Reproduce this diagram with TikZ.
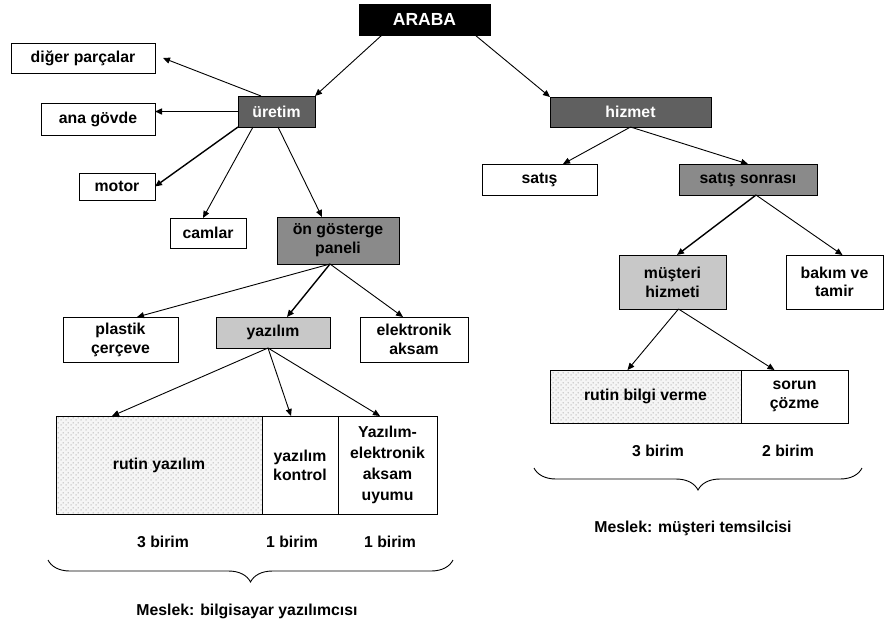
\documentclass[tikz,border=0pt]{standalone}
\usepackage{fontspec}
\setmainfont{Liberation Sans}
\usetikzlibrary{arrows.meta,calc,patterns,decorations.pathreplacing}
\definecolor{darkbox}{HTML}{606060}
\definecolor{midbox}{HTML}{8A8A8A}
\definecolor{lightbox}{HTML}{C8C8C8}
\pgfdeclarepatternformonly{mydots}{\pgfpointorigin}{\pgfqpoint{5pt}{5pt}}{\pgfqpoint{5pt}{5pt}}{%
  \pgfpathellipse{\pgfqpoint{1.25pt}{1.25pt}}{\pgfqpoint{0.6pt}{0pt}}{\pgfqpoint{0pt}{0.95pt}}%
  \pgfpathellipse{\pgfqpoint{3.75pt}{3.75pt}}{\pgfqpoint{0.6pt}{0pt}}{\pgfqpoint{0pt}{0.95pt}}%
  \pgfusepath{fill}}
\begin{document}
\begin{tikzpicture}[x=1pt,y=-1pt,
  box/.style={draw=black,line width=1pt,inner sep=0pt,outer sep=0pt,align=center,
    font=\fontsize{15.8}{19}\selectfont\bfseries,fill=white},
  dark/.style={box,fill=darkbox,text=white},
  mid/.style={box,fill=midbox},
  light/.style={box,fill=lightbox},
  hatch/.style={box,preaction={fill=gray!8},pattern=mydots,pattern color=gray!65},
  lbl/.style={inner sep=0pt,font=\fontsize{15.8}{19}\selectfont\bfseries},
  conn/.style={line width=0.9pt,-{Triangle[length=7pt,width=6pt]}},
  thick conn/.style={conn,line width=1.4pt},
  brc/.style={decorate,decoration={brace,mirror,amplitude=22pt,aspect=0.5},line width=0.9pt}
]
\useasboundingbox (0,0) rectangle (885,625);

% nodes
\node[box,fill=black,text=white,font=\fontsize{17.5}{19}\selectfont\bfseries,minimum width=131pt,minimum height=31pt] (araba) at (424.5,19.5) {ARABA};
\node[box,minimum width=144pt,minimum height=30pt] (dp) at (83,58) {diğer parçalar};
\node[box,minimum width=114pt,minimum height=32pt] (ag) at (98,119) {ana gövde};
\node[dark,minimum width=77pt,minimum height=31pt] (ur) at (276.5,111.5) {üretim};
\node[box,minimum width=76pt,minimum height=27pt] (mo) at (117,186.5) {motor};
\node[box,minimum width=76pt,minimum height=30pt] (ca) at (208,233) {camlar};
\node[mid,minimum width=122pt,minimum height=47pt] (pa) at (338,240.5) {ön gösterge\\paneli};
\node[dark,minimum width=161pt,minimum height=30pt] (hz) at (630.5,112) {hizmet};
\node[box,minimum width=115pt,minimum height=31pt] (sa) at (539.5,179.5) {satış};
\node[mid,minimum width=138pt,minimum height=31pt] (ss) at (748,179.5) {satış sonrası};
\node[light,minimum width=107pt,minimum height=54pt] (mh) at (672.5,282) {müşteri\\hizmeti};
\node[box,minimum width=97pt,minimum height=54pt,font=\fontsize{15.8}{17.5}\selectfont\bfseries] (bt) at (834.5,282) {bakım ve\\tamir};
\node[hatch,minimum width=191pt,minimum height=53pt] (rb) at (645.5,396.5) {rutin bilgi verme};
\node[box,minimum width=107pt,minimum height=53pt] (sc) at (794.5,396.5) {sorun\\çözme};
\node[box,minimum width=115pt,minimum height=45pt] (pc) at (120.5,339.5) {plastik\\çerçeve};
\node[light,minimum width=114pt,minimum height=31pt] (yz) at (273,332.5) {yazılım};
\node[box,minimum width=108pt,minimum height=45pt] (ea) at (414,339.5) {elektronik\\aksam};
\node[hatch,minimum width=206pt,minimum height=98pt] (ry) at (159,465) {rutin yazılım};
\node[box,minimum width=76pt,minimum height=98pt] (yk) at (300,465) {yazılım\\kontrol};
\node[box,minimum width=99pt,minimum height=98pt,font=\fontsize{15.8}{21}\selectfont\bfseries] (ye) at (387.5,465) {Yazılım-\\elektronik\\aksam\\uyumu};

% labels
\node[lbl] (l3a) at (163,542) {3 birim};
\node[lbl] (l1a) at (292,542) {1 birim};
\node[lbl] (l1b) at (390,542) {1 birim};
\node[lbl] (mesl) at (247,611) {Meslek: bilgisayar yazılımcısı};
\node[lbl] (l3b) at (658,451) {3 birim};
\node[lbl] (l2b) at (788,451) {2 birim};
\node[lbl] (mesr) at (693,528) {Meslek: müşteri temsilcisi};

% braces
\coordinate (bla) at (48,560);
\coordinate (blb) at (453,560);
\coordinate (bra) at (534,468);
\coordinate (brb) at (862,468);
\draw[brc] (bla) -- (blb);
\draw[brc] (bra) -- (brb);

% connectors
\draw[conn] ($(araba.south west)+(23,0)$) -- (ur.north east);
\draw[conn] ($(araba.south east)+(-15,0)$) -- (hz.north west);
\draw[conn] ($(ur.north west)+(23,0)$) -- ($(dp.east)+(8,0)$);
\draw[thick conn] (ur.west) -- (ag.east |- ur.west);
\draw[thick conn] (ur.south west) -- (mo.east);
\draw[conn] ($(ur.south west)+(15,0)$) -- ($(ca.north)+(-5,0)$);
\draw[conn] ($(ur.south west)+(40,0)$) -- ($(pa.north west)+(45,0)$);
\draw[conn] (hz.south) -- ($(sa.north)+(23.5,0)$);
\draw[conn] (hz.south) -- (ss.north);
\draw[thick conn] ($(ss.south)+(8,0)$) -- ($(mh.north)+(4.5,0)$);
\draw[conn] ($(ss.south)+(8,0)$) -- ($(bt.north)+(8,0)$);
\draw[conn] ($(mh.south)+(6,0)$) -- ($(rb.north)+(-18,0)$);
\draw[conn] ($(mh.south)+(6,0)$) -- ($(sc.north)+(-20,0)$);
\draw[conn] ($(pa.south)+(-8,0)$) -- ($(pc.north)+(16.5,0)$);
\draw[thick conn] ($(pa.south)+(-8,0)$) -- ($(yz.north)+(14,0)$);
\draw[conn] ($(pa.south)+(-8,0)$) -- ($(ea.north)+(-11,0)$);
\draw[conn] ($(yz.south)+(-5,0)$) -- ($(ry.north)+(-47,0)$);
\draw[conn] ($(yz.south)+(-5,0)$) -- ($(yk.north)+(-9,0)$);
\draw[conn] ($(yz.south)+(-5,0)$) -- ($(ye.north)+(-7.5,0)$);
\end{tikzpicture}
\end{document}
